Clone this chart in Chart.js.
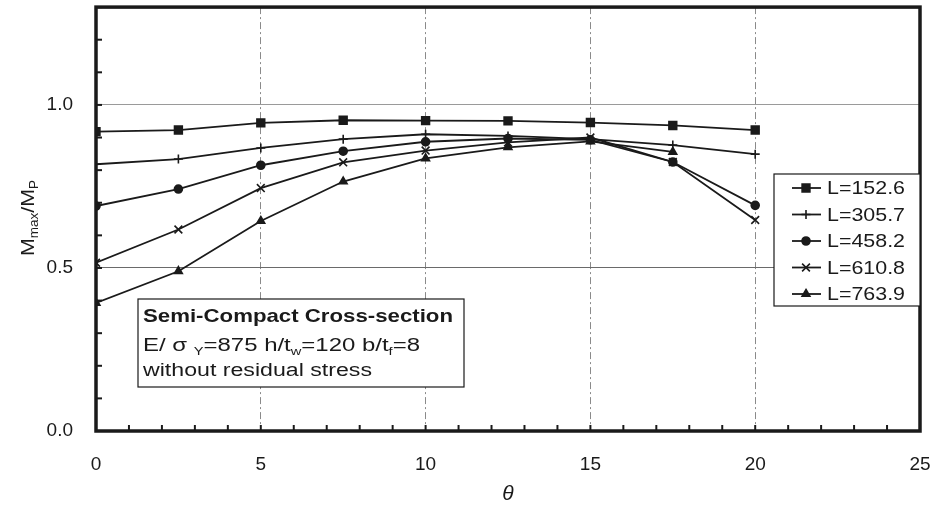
<!DOCTYPE html>
<html><head><meta charset="utf-8">
<script src="https://cdn.jsdelivr.net/npm/chart.js@4"></script>
<style>html,body{margin:0;padding:0;background:#fff}canvas{display:block}</style>
</head><body>
<canvas id="c" width="937" height="511" style="width:937px;height:511px"></canvas>
<script>
const thetas = [0, 2.5, 5, 7.5, 10, 12.5, 15, 17.5, 20];
const L152 = [0.918, 0.923, 0.945, 0.953, 0.952, 0.951, 0.946, 0.937, 0.923];
const L305 = [0.818, 0.834, 0.868, 0.895, 0.910, 0.905, 0.895, 0.877, 0.849];
const L458 = [0.690, 0.742, 0.815, 0.858, 0.887, 0.897, 0.893, 0.825, 0.692];
const L610 = [0.516, 0.618, 0.745, 0.824, 0.860, 0.885, 0.900, 0.825, 0.647];
const L763 = [0.393, 0.490, 0.644, 0.765, 0.836, 0.870, 0.888, 0.856];
const seriesLabels = ['L=152.6', 'L=305.7', 'L=458.2', 'L=610.8', 'L=763.9'];
const seriesValues = [L152, L305, L458, L610, L763];
const pointStyles = ['rect', 'cross', 'circle', 'crossRot', 'triangle'];
const pointRadii = [5.5, 4.5, 4, 5.5, 4.5];
const xTickLabels = [0, 5, 10, 15, 20, 25];
const yTickLabels = [0.0, 0.5, 1.0];

const FONT = '"Liberation Sans", Arial, sans-serif';
const INK = '#1a1a1a';

const datasets = seriesValues.map((vals, i) => ({
  label: seriesLabels[i],
  data: vals.map((v, j) => ({x: thetas[j], y: v})),
  borderColor: INK,
  backgroundColor: INK,
  borderWidth: 1.8,
  pointStyle: pointStyles[i],
  pointRadius: pointRadii[i],
  pointBorderWidth: 1.6,
  pointBorderColor: INK,
  pointBackgroundColor: INK,
  tension: 0,
  fill: false
}));

function isMult(v, s) { return Math.abs(v / s - Math.round(v / s)) < 1e-6; }

// draw text segments (with subscripts) stretched to a target width
function drawRich(ctx, segs, x, y, size, bold, targetW) {
  const fontOf = sub => (bold ? 'bold ' : '') + (sub ? Math.round(size * 0.62) : size) + 'px ' + FONT;
  let w = 0;
  for (const [t, sub] of segs) { ctx.font = fontOf(sub); w += ctx.measureText(t).width; }
  const k = targetW ? targetW / w : 1;
  ctx.save();
  ctx.translate(x, y);
  ctx.scale(k, 1);
  let cx = 0;
  for (const [t, sub] of segs) {
    ctx.font = fontOf(sub);
    ctx.fillText(t, cx, sub ? size * 0.22 : 0);
    cx += ctx.measureText(t).width;
  }
  ctx.restore();
}

function marker(ctx, style, r, x, y) {
  if (Chart.helpers && Chart.helpers.drawPoint) {
    ctx.fillStyle = INK; ctx.strokeStyle = INK; ctx.lineWidth = 1.6;
    Chart.helpers.drawPoint(ctx, {pointStyle: style, radius: r, rotation: 0, borderWidth: 1.6}, x, y);
  }
}

const framePlugin = {
  id: 'frame',
  afterDatasetsDraw(chart) {
    const {ctx, chartArea: a, scales} = chart;
    ctx.save();
    // inward tick marks
    ctx.strokeStyle = INK; ctx.lineWidth = 2;
    scales.x.ticks.forEach(t => {
      const px = scales.x.getPixelForValue(t.value);
      ctx.beginPath(); ctx.moveTo(px, a.bottom); ctx.lineTo(px, a.bottom - 6); ctx.stroke();
    });
    scales.y.ticks.forEach(t => {
      const py = scales.y.getPixelForValue(t.value);
      ctx.beginPath(); ctx.moveTo(a.left, py); ctx.lineTo(a.left + 6, py); ctx.stroke();
    });
    // frame
    ctx.lineWidth = 3.5;
    ctx.strokeRect(a.left, a.top, a.right - a.left, a.bottom - a.top);

    // annotation box
    ctx.lineWidth = 1.2;
    ctx.fillStyle = '#fff';
    ctx.fillRect(138, 299, 326, 88);
    ctx.strokeRect(138, 299, 326, 88);
    ctx.fillStyle = INK;
    ctx.textBaseline = 'alphabetic';
    ctx.textAlign = 'left';
    drawRich(ctx, [['Semi-Compact Cross-section', false]], 143, 322, 19, true, 310);
    drawRich(ctx, [['E/ σ ', false], ['Y', true], ['=875 h/t', false], ['w', true], ['=120 b/t', false], ['f', true], ['=8', false]], 143, 351, 18, false, 277);
    drawRich(ctx, [['without residual stress', false]], 143, 376, 18, false, 229);

    // legend box
    ctx.lineWidth = 1.2;
    ctx.fillStyle = '#fff';
    ctx.fillRect(774, 174, 146, 132);
    ctx.strokeRect(774, 174, 146, 132);
    chart.data.datasets.forEach((ds, i) => {
      const y = 188 + 26.5 * i;
      ctx.strokeStyle = INK; ctx.lineWidth = 1.8;
      ctx.beginPath(); ctx.moveTo(792, y); ctx.lineTo(821, y); ctx.stroke();
      marker(ctx, ds.pointStyle, ds.pointRadius, 806, y);
      ctx.fillStyle = INK;
      ctx.textBaseline = 'middle';
      drawRich(ctx, [[ds.label, false]], 827, y + 1, 19, false, 78);
    });

    // y axis title
    ctx.save();
    ctx.translate(34, 218);
    ctx.rotate(-Math.PI / 2);
    ctx.textBaseline = 'alphabetic';
    ctx.fillStyle = INK;
    drawRich(ctx, [['M', false], ['max', true], ['/M', false], ['P', true]], -38, 0, 19, false, 76);
    ctx.restore();

    // x axis title
    ctx.font = 'italic 21px ' + FONT;
    ctx.textAlign = 'center';
    ctx.textBaseline = 'middle';
    ctx.fillText('θ', (a.left + a.right) / 2, 494);
    ctx.restore();
  }
};

new Chart(document.getElementById('c'), {
  type: 'line',
  data: {datasets},
  options: {
    responsive: false,
    devicePixelRatio: 1,
    animation: false,
    layout: {padding: {left: 0, right: 17, top: 7, bottom: 0}},
    plugins: {legend: {display: false}, tooltip: {enabled: false}},
    scales: {
      x: {
        type: 'linear', min: 0, max: 25,
        ticks: {
          stepSize: 1, autoSkip: false, maxRotation: 0, padding: 22,
          color: INK, font: {family: FONT, size: 19},
          callback: v => xTickLabels.includes(v) ? String(v) : ''
        },
        grid: {
          drawTicks: false,
          color: c => (c.tick && isMult(c.tick.value, 5) && c.tick.value > 0 && c.tick.value < 25) ? '#8a8a8a' : 'rgba(0,0,0,0)',
          lineWidth: 1
        },
        border: {display: false, dash: [7, 3, 2, 3]},
        afterFit: s => { s.height = 80; s.paddingLeft = 0; s.paddingRight = 0; }
      },
      y: {
        type: 'linear', min: 0, max: 1.3,
        ticks: {
          stepSize: 0.1, autoSkip: false, padding: 23,
          color: INK, font: {family: FONT, size: 19},
          callback: v => yTickLabels.some(t => Math.abs(t - v) < 1e-6) ? v.toFixed(1) : ''
        },
        grid: {
          drawTicks: false,
          color: c => {
            if (!c.tick) return 'rgba(0,0,0,0)';
            if (Math.abs(c.tick.value - 0.5) < 1e-6) return '#6a6a6a';
            if (Math.abs(c.tick.value - 1.0) < 1e-6) return '#9a9a9a';
            return 'rgba(0,0,0,0)';
          },
          lineWidth: 1
        },
        border: {display: false},
        afterFit: s => { s.width = 96; s.paddingTop = 0; s.paddingBottom = 0; }
      }
    }
  },
  plugins: [framePlugin]
});
</script>
</body></html>
